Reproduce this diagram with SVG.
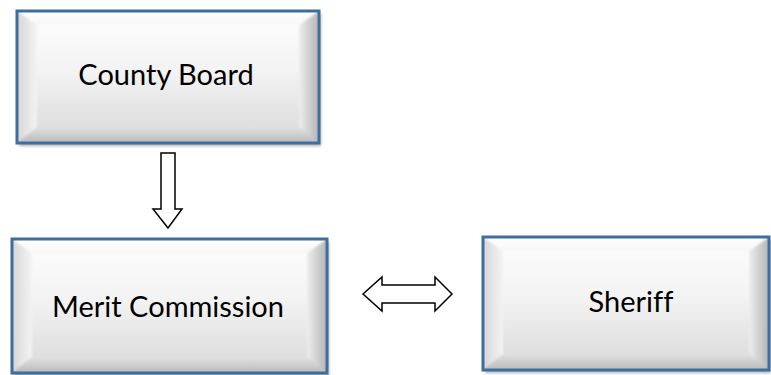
<svg xmlns="http://www.w3.org/2000/svg" width="771" height="375" viewBox="0 0 771 375">
  <style>
    .shadow { fill: #6f6f6f; opacity: 0.55; filter: url(#soft); }
    .face { fill: url(#faceGrad); }
    .bevel { filter: url(#bevelBlur); }
    .frame { fill: none; stroke: #3d6f9e; stroke-width: 3; }
    .label { font-family: Lato, "Open Sans", "Liberation Sans", sans-serif; font-size: 29px; fill: #000; text-anchor: middle; font-variant-ligatures: none; }
    .conn { fill: #fff; stroke: #000; stroke-width: 1.5; stroke-linejoin: miter; }
  </style>
  <defs>
    <filter id="soft" x="-5%" y="-5%" width="110%" height="115%">
      <feGaussianBlur stdDeviation="1.5"/>
    </filter>
    <filter id="bevelBlur" x="-2%" y="-2%" width="104%" height="104%">
      <feGaussianBlur stdDeviation="1.2"/>
    </filter>
    <linearGradient id="faceGrad" x1="0" y1="0" x2="0" y2="1">
      <stop offset="0" stop-color="#fefefe"/>
      <stop offset="0.45" stop-color="#f3f3f3"/>
      <stop offset="1" stop-color="#d9d9d9"/>
    </linearGradient>
    <linearGradient id="bevTop" x1="0" y1="0" x2="0" y2="1">
      <stop offset="0" stop-color="#ffffff"/>
      <stop offset="1" stop-color="#f7f7f7"/>
    </linearGradient>
    <linearGradient id="bevLeft" x1="0" y1="0" x2="1" y2="0">
      <stop offset="0" stop-color="#d6d6d6"/>
      <stop offset="1" stop-color="#f4f4f4"/>
    </linearGradient>
    <linearGradient id="bevRight" x1="0" y1="0" x2="1" y2="0">
      <stop offset="0" stop-color="#eeeeee"/>
      <stop offset="1" stop-color="#b4b4b4"/>
    </linearGradient>
    <linearGradient id="bevBottom" x1="0" y1="0" x2="0" y2="1">
      <stop offset="0" stop-color="#e2e2e2"/>
      <stop offset="1" stop-color="#b9b9b9"/>
    </linearGradient>
  </defs>

  <rect width="771" height="375" fill="#fff"/>

  <!-- County Board: x17 y11 w302 h132 -->
  <g id="county-board">
    <rect class="shadow" x="19" y="14" width="302" height="132"/>
    <rect class="face" x="17" y="11" width="302" height="132"/>
    <g class="bevel">
      <polygon fill="url(#bevTop)" points="17,11 319,11 299,25 37,25"/>
      <polygon fill="url(#bevLeft)" points="17,11 37,25 37,127 17,143"/>
      <polygon fill="url(#bevRight)" points="319,11 319,143 299,127 299,25"/>
      <polygon fill="url(#bevBottom)" points="17,143 37,127 299,127 319,143"/>
    </g>
    <rect class="frame" x="17" y="11" width="302" height="132"/>
    <text class="label" x="166" y="85">County Board</text>
  </g>

  <!-- Merit Commission: x12 y239 w315 h134 -->
  <g id="merit-commission">
    <rect class="shadow" x="14" y="242" width="315" height="134"/>
    <rect class="face" x="12" y="239" width="315" height="134"/>
    <g class="bevel">
      <polygon fill="url(#bevTop)" points="12,239 327,239 307,253 32,253"/>
      <polygon fill="url(#bevLeft)" points="12,239 32,253 32,357 12,373"/>
      <polygon fill="url(#bevRight)" points="327,239 327,373 307,357 307,253"/>
      <polygon fill="url(#bevBottom)" points="12,373 32,357 307,357 327,373"/>
    </g>
    <rect class="frame" x="12" y="239" width="315" height="134"/>
    <text class="label" x="168" y="317">Merit Commission</text>
  </g>

  <!-- Sheriff: x483 y237 w286 h133 -->
  <g id="sheriff">
    <rect class="shadow" x="485" y="240" width="286" height="133"/>
    <rect class="face" x="483" y="237" width="286" height="133"/>
    <g class="bevel">
      <polygon fill="url(#bevTop)" points="483,237 769,237 749,251 503,251"/>
      <polygon fill="url(#bevLeft)" points="483,237 503,251 503,354 483,370"/>
      <polygon fill="url(#bevRight)" points="769,237 769,370 749,354 749,251"/>
      <polygon fill="url(#bevBottom)" points="483,370 503,354 749,354 769,370"/>
    </g>
    <rect class="frame" x="483" y="237" width="286" height="133"/>
    <text class="label" x="631" y="312">Sheriff</text>
  </g>

  <!-- Connectors: block arrows -->
  <g id="connectors">
    <polygon class="conn" points="161,153 175,153 175,209 182,209 168,228 153,209 161,209"/>
    <polygon class="conn" points="363,294 382,277 382,285 435,285 435,277 452,294 435,311 435,303 382,303 382,311"/>
  </g>
</svg>
